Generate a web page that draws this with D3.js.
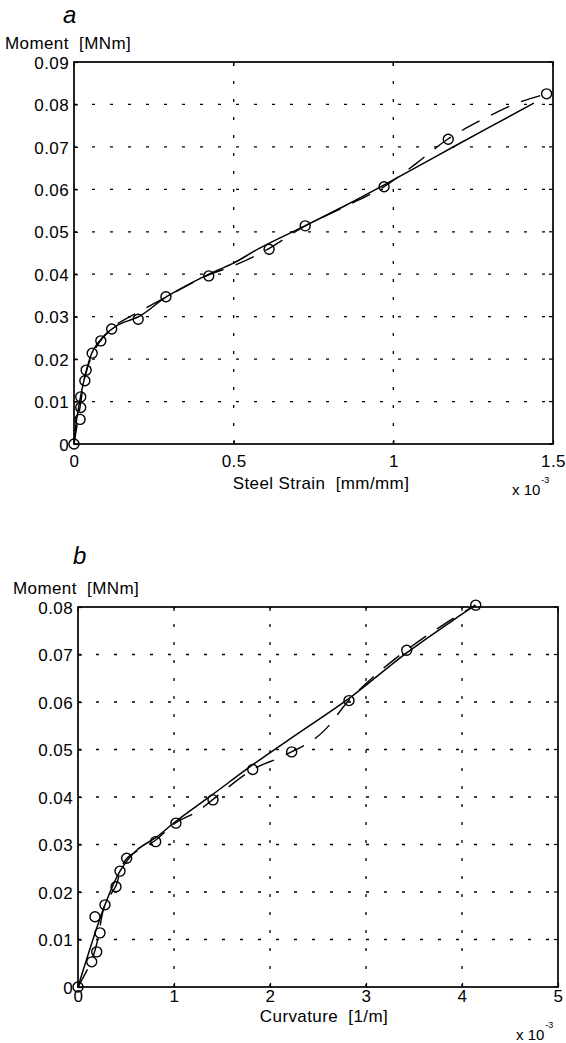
<!DOCTYPE html>
<html><head><meta charset="utf-8">
<script src="https://cdn.jsdelivr.net/npm/d3@7"></script>
<style>
html,body{margin:0;padding:0;background:#fff;}
svg{display:block;}
text{font-family:"Liberation Sans",Arial,Helvetica,sans-serif;fill:#000;}
</style></head>
<body>
<svg id="chart" width="566" height="1043"></svg>
<script>
// ---------- Panel a: Moment vs steel strain ----------
const xTicksA = [0, 0.5, 1, 1.5];
const xTickLabelsA = ["0", "0.5", "1", "1.5"];
const yTicksA = [0, 0.01, 0.02, 0.03, 0.04, 0.05, 0.06, 0.07, 0.08, 0.09];
const yTickLabelsA = ["0", "0.01", "0.02", "0.03", "0.04", "0.05", "0.06", "0.07", "0.08", "0.09"];
// test points (circles)
const strainTest = [0, 0.019, 0.021, 0.021, 0.034, 0.038, 0.057, 0.084, 0.118, 0.201, 0.288, 0.422, 0.611, 0.724, 0.971, 1.172, 1.48];
const momentTestA = [0, 0.0058, 0.0086, 0.0111, 0.0149, 0.0174, 0.0214, 0.0243, 0.0271, 0.0294, 0.0347, 0.0396, 0.0459, 0.0514, 0.0606, 0.0718, 0.0825];
// model (solid)
const strainModel = [0, 0.008, 0.029, 0.045, 0.06, 0.092, 0.134, 0.207, 0.29, 0.416, 0.499, 0.583, 0.718, 0.85, 0.97, 1.2, 1.44];
const momentModelA = [0, 0.0057, 0.0143, 0.019, 0.0221, 0.0253, 0.0279, 0.0302, 0.0347, 0.0398, 0.0426, 0.0462, 0.0512, 0.0562, 0.061, 0.0705, 0.0803];
// second model (dashed)
const strainDash = [0, 0.02, 0.035, 0.06, 0.09, 0.13, 0.2, 0.29, 0.42, 0.5, 0.6, 0.72, 0.85, 0.97, 1.07, 1.17, 1.28, 1.39, 1.48];
const momentDashA = [0, 0.0092, 0.016, 0.0215, 0.025, 0.028, 0.031, 0.0347, 0.0398, 0.042, 0.0456, 0.0512, 0.056, 0.0606, 0.066, 0.0718, 0.0765, 0.0804, 0.0825];

// ---------- Panel b: Moment vs curvature ----------
const xTicksB = [0, 1, 2, 3, 4, 5];
const xTickLabelsB = ["0", "1", "2", "3", "4", "5"];
const yTicksB = [0, 0.01, 0.02, 0.03, 0.04, 0.05, 0.06, 0.07, 0.08];
const yTickLabelsB = ["0", "0.01", "0.02", "0.03", "0.04", "0.05", "0.06", "0.07", "0.08"];
const curvTest = [0, 0.143, 0.195, 0.229, 0.177, 0.281, 0.396, 0.4375, 0.507, 0.809, 1.02, 1.406, 1.82, 2.226, 2.823, 3.424, 4.143];
const momentTestB = [0, 0.0053, 0.0074, 0.0114, 0.0148, 0.0173, 0.0211, 0.0244, 0.0271, 0.0306, 0.0345, 0.0394, 0.0458, 0.0495, 0.0603, 0.0709, 0.0804];
const curvModel = [0, 0.281, 0.4375, 0.611, 0.82, 1.02, 1.4, 1.8, 2.3, 2.82, 3.42, 4.0, 4.14];
const momentModelB = [0, 0.0173, 0.0244, 0.0288, 0.0316, 0.0349, 0.0405, 0.0465, 0.0535, 0.0607, 0.0703, 0.0785, 0.0804];
const curvDash = [0, 0.14, 0.2, 0.28, 0.4, 0.44, 0.51, 0.8, 1.02, 1.24, 1.4, 1.82, 2.1, 2.42, 2.59, 2.82, 3.1, 3.42, 3.8, 4.14];
const momentDashB = [0, 0.0055, 0.0095, 0.0173, 0.0215, 0.0244, 0.0271, 0.0308, 0.0346, 0.0369, 0.0394, 0.0458, 0.0483, 0.0516, 0.0545, 0.0603, 0.0657, 0.0709, 0.0762, 0.0804];

const svg = d3.select("#chart");
const FS = 17;

function panel(o) {
  const x = d3.scaleLinear().domain(o.xDomain).range([o.left, o.right]);
  const y = d3.scaleLinear().domain(o.yDomain).range([o.bottom, o.top]);
  const g = svg.append("g");

  // grid (dotted)
  g.append("g").selectAll("line").data(o.yTicks.slice(1, -1)).join("line")
    .attr("x1", o.left).attr("x2", o.right)
    .attr("y1", d => y(d)).attr("y2", d => y(d))
    .attr("stroke", "#000").attr("stroke-width", 1.3).attr("stroke-dasharray", "3,15");
  g.append("g").selectAll("line").data(o.xTicks.slice(1, -1)).join("line")
    .attr("y1", o.bottom).attr("y2", o.top)
    .attr("x1", d => x(d)).attr("x2", d => x(d))
    .attr("stroke", "#000").attr("stroke-width", 1.3).attr("stroke-dasharray", "3,15");

  // axes
  const ax = g.append("g").attr("transform", `translate(0,${o.bottom})`)
    .call(d3.axisBottom(x).tickValues(o.xTicks).tickFormat((d, i) => o.xLabels[i])
      .tickSizeInner(-4).tickSizeOuter(0).tickPadding(o.xPad));
  const ay = g.append("g").attr("transform", `translate(${o.left},0)`)
    .call(d3.axisLeft(y).tickValues(o.yTicks).tickFormat((d, i) => o.yLabels[i])
      .tickSizeInner(-4).tickSizeOuter(0).tickPadding(5));
  [ax, ay].forEach(a => {
    a.select(".domain").remove();
    a.selectAll("line").attr("stroke", "#000").attr("stroke-width", 1.2);
    a.selectAll("text").attr("font-size", FS).attr("font-family", '"Liberation Sans",Arial,sans-serif')
      .attr("letter-spacing", 0.4).attr("fill", "#000");
  });
  ay.selectAll("text").attr("dy", "0.36em");
  // top & right ticks
  g.append("g").selectAll("line").data(o.xTicks).join("line")
    .attr("x1", d => x(d)).attr("x2", d => x(d)).attr("y1", o.top).attr("y2", o.top + 4)
    .attr("stroke", "#000").attr("stroke-width", 1.2);
  g.append("g").selectAll("line").data(o.yTicks).join("line")
    .attr("y1", d => y(d)).attr("y2", d => y(d)).attr("x1", o.right).attr("x2", o.right - 4)
    .attr("stroke", "#000").attr("stroke-width", 1.2);

  // box
  g.append("rect").attr("x", o.left).attr("y", o.top)
    .attr("width", o.right - o.left).attr("height", o.bottom - o.top)
    .attr("fill", "none").attr("stroke", "#000").attr("stroke-width", 1.7);

  const curve = d3.curveCatmullRom.alpha(0.5);
  const solid = o.mx.map((v, i) => [v, o.my[i]]);
  const dash = o.dx.map((v, i) => [v, o.dy[i]]);
  g.append("path").datum(solid).attr("d", d3.line().x(d => x(d[0])).y(d => y(d[1])).curve(curve))
    .attr("fill", "none").attr("stroke", "#000").attr("stroke-width", 1.5);
  g.append("path").datum(dash).attr("d", d3.line().x(d => x(d[0])).y(d => y(d[1])).curve(curve))
    .attr("fill", "none").attr("stroke", "#000").attr("stroke-width", 1.4).attr("stroke-dasharray", "20,13");

  const pts = o.tx.map((v, i) => [v, o.ty[i]]);
  g.append("g").selectAll("circle").data(pts).join("circle")
    .attr("cx", d => x(d[0])).attr("cy", d => y(d[1])).attr("r", 5)
    .attr("fill", "none").attr("stroke", "#000").attr("stroke-width", 1.4);

  // labels
  g.append("text").attr("x", o.letterX).attr("y", o.letterY).text(o.letter)
    .attr("font-family", '"Liberation Serif","Times New Roman",serif').attr("font-style", "italic").attr("font-size", 24);
  g.append("text").attr("x", o.ylabX).attr("y", o.ylabY).attr("font-size", FS).attr("letter-spacing", 0.4)
    .text("Moment\u00a0\u00a0[MNm]");
  g.append("text").attr("x", o.xlabX).attr("y", o.xlabY).attr("font-size", FS).attr("letter-spacing", 0.4)
    .attr("text-anchor", "middle").text(o.xlab);
  const m = g.append("text").attr("x", o.mulX).attr("y", o.mulY).attr("font-size", 15);
  m.append("tspan").text("x\u00a010");
  m.append("tspan").attr("font-size", 9).attr("dy", -12).attr("dx", 1).text("-3");
}

panel({
  left: 74, right: 553, top: 62, bottom: 444,
  xDomain: [0, 1.5], yDomain: [0, 0.09],
  xTicks: xTicksA, xLabels: xTickLabelsA, yTicks: yTicksA, yLabels: yTickLabelsA, xPad: 11,
  tx: strainTest, ty: momentTestA, mx: strainModel, my: momentModelA, dx: strainDash, dy: momentDashA,
  letter: "a", letterX: 63, letterY: 23, ylabX: 5, ylabY: 49,
  xlab: "Steel Strain\u00a0\u00a0[mm/mm]", xlabX: 321, xlabY: 489, mulX: 512, mulY: 495
});
panel({
  left: 78, right: 558, top: 607, bottom: 987,
  xDomain: [0, 5], yDomain: [0, 0.08],
  xTicks: xTicksB, xLabels: xTickLabelsB, yTicks: yTicksB, yLabels: yTickLabelsB, xPad: 3,
  tx: curvTest, ty: momentTestB, mx: curvModel, my: momentModelB, dx: curvDash, dy: momentDashB,
  letter: "b", letterX: 73, letterY: 564, ylabX: 13, ylabY: 594,
  xlab: "Curvature\u00a0\u00a0[1/m]", xlabX: 324, xlabY: 1022, mulX: 516, mulY: 1040
});
</script>
</body></html>
